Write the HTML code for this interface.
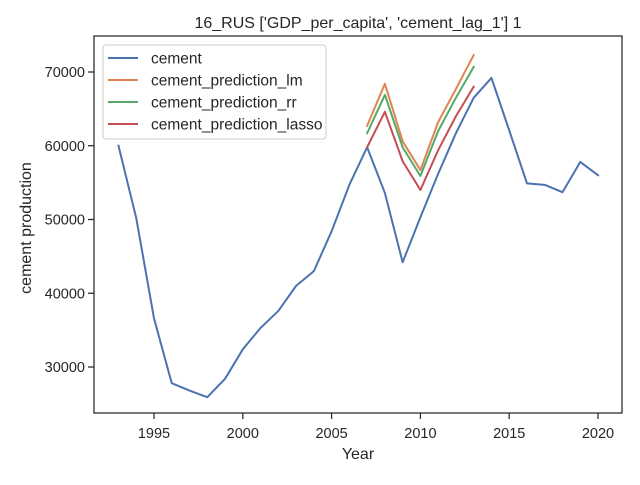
<!DOCTYPE html>
<html><head><meta charset="utf-8"><style>
body{margin:0;background:#fff;}
svg text{font-family:"Liberation Sans",Arial,sans-serif;fill:#262626;}
</style></head><body>
<svg id="chart" width="640" height="480">
<text x="358" y="28" text-anchor="middle" font-size="16">16_RUS ['GDP_per_capita', 'cement_lag_1'] 1</text>
<g id="ticks"></g>
<g id="lines"></g>
<rect x="94" y="36" width="528" height="377" fill="none" stroke="#262626" stroke-width="1.25"/>
<text x="358" y="459" text-anchor="middle" font-size="16">Year</text>
<text transform="translate(31,228) rotate(-90)" text-anchor="middle" font-size="16">cement production</text>
<g>
<rect x="103" y="45" width="223" height="94" rx="3" fill="#fff" fill-opacity="0.8" stroke="#ccc"/>
<g id="legend-items"></g>
</g>
</svg>
<script>
const years=[1993,1994,1995,1996,1997,1998,1999,2000,2001,2002,2003,2004,2005,2006,2007,2008,2009,2010,2011,2012,2013,2014,2015,2016,2017,2018,2019,2020];
const cement=[60000,50200,36600,27800,26800,25900,28400,32400,35300,37600,41000,43000,48400,54700,59800,53600,44200,50300,56200,61700,66500,69200,62100,54900,54700,53700,57800,56000];
const predYears=[2007,2008,2009,2010,2011,2012,2013];
const predLm=[62700,68400,60600,56700,63200,67700,72300];
const predRr=[61700,66900,59800,55900,62000,66500,70700];
const predLasso=[59800,64600,57900,54000,59400,64000,68000];
const xTicks=[1995,2000,2005,2010,2015,2020];
const yTicks=[30000,40000,50000,60000,70000];
const seriesNames=["cement","cement_prediction_lm","cement_prediction_rr","cement_prediction_lasso"];
const NS="http://www.w3.org/2000/svg";
const xs=v=>154+(v-1995)*17.76;
const ys=v=>72+(70000-v)/10000*73.75;
const tg=document.getElementById('ticks');
function mk(tag,attrs,parent){const e=document.createElementNS(NS,tag);for(const k in attrs)e.setAttribute(k,attrs[k]);parent.appendChild(e);return e;}
xTicks.forEach(t=>{
 const l=mk('line',{x1:xs(t),x2:xs(t),y1:413,y2:419,stroke:'#262626','stroke-width':1.25},tg);
 
 
 const tx=mk('text',{x:xs(t),y:438,'text-anchor':'middle','font-size':14.5},tg);
 tx.textContent=t;
 
 
});
yTicks.forEach(t=>{
 const l=mk('line',{x1:88,x2:94,y1:ys(t),y2:ys(t),stroke:'#262626','stroke-width':1.25},tg);
 
 
 const tx=mk('text',{x:85,y:ys(t)+5,'text-anchor':'end','font-size':14.5},tg);
 tx.textContent=t;
 
 
});
const colors=["#4c72b0","#dd8452","#55a868","#c44e52"];
const lg=document.getElementById('lines');
function line(xa,ya,c,name){
 const p=mk('polyline',{points:xa.map((x,i)=>xs(x)+','+ys(ya[i])).join(' '),fill:'none',stroke:c,'stroke-width':2,'stroke-linejoin':'round','stroke-linecap':'square'},lg);
 
 
}
line(years,cement,colors[0],'cement-line');
line(predYears,predLm,colors[1],'lm-line');
line(predYears,predRr,colors[2],'rr-line');
line(predYears,predLasso,colors[3],'lasso-line');
const li=document.getElementById('legend-items');
seriesNames.forEach((n,i)=>{
 const y=58+i*22;
 const l=mk('line',{x1:108,x2:138,y1:y,y2:y,stroke:colors[i],'stroke-width':2},li);
 
 
 const t=mk('text',{x:151,y:y+5.5,'font-size':15.5},li);
 t.textContent=n;
 
 
});
</script>
</body></html>
